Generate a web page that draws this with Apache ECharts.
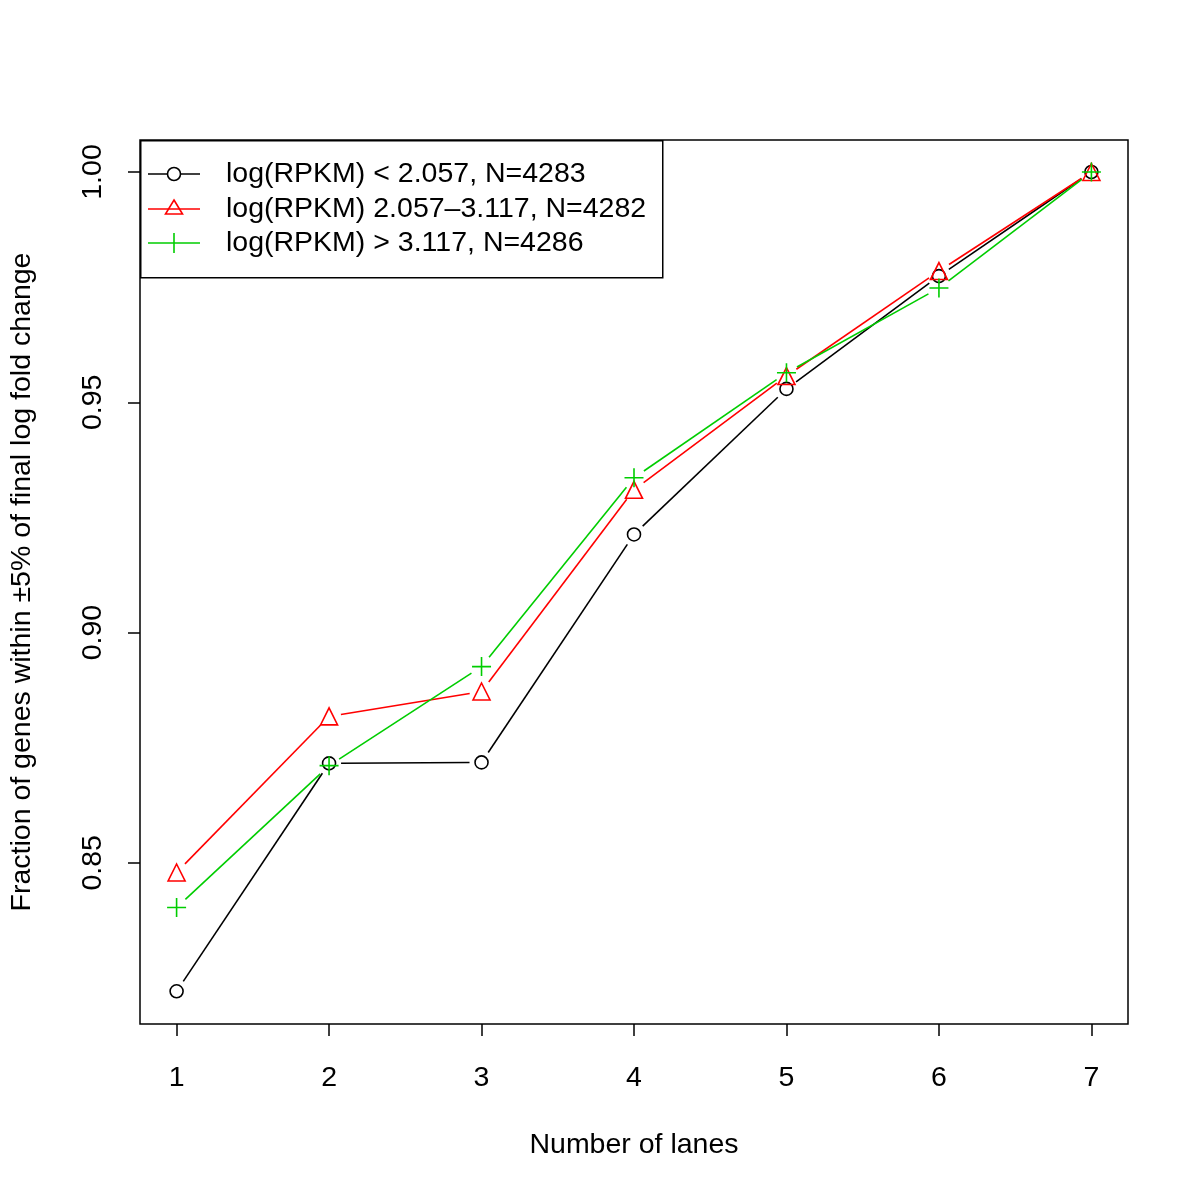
<!DOCTYPE html>
<html><head><meta charset="utf-8">
<script src="https://cdn.jsdelivr.net/npm/echarts@6/dist/echarts.min.js"></script>
<style>html,body{margin:0;padding:0;background:#fff}#c{width:1200px;height:1200px}</style>
</head><body><div id="c"></div>
<script>
const lanes = [1, 2, 3, 4, 5, 6, 7];
const lowVals = [0.8221, 0.8716, 0.8718, 0.9213, 0.9529, 0.9774, 1.0];
const midVals = [0.8479, 0.8818, 0.8872, 0.9310, 0.9557, 0.9785, 1.0];
const highVals = [0.8403, 0.8711, 0.8926, 0.9336, 0.9564, 0.9748, 1.0];
const seriesNames = ['log(RPKM) < 2.057, N=4283', 'log(RPKM) 2.057\u20133.117, N=4282', 'log(RPKM) > 3.117, N=4286'];
const xTicks = [1, 2, 3, 4, 5, 6, 7];
const yTicks = [0.85, 0.90, 0.95, 1.00];
const xTitle = 'Number of lanes';
const yTitle = 'Fraction of genes within \u00B15% of final log fold change';

const colors = ['#000000', '#FF0000', '#00CD00'];
const FONT = 'Liberation Sans, Arial, sans-serif';
const FS = 28.5;
const plusPath = 'path://M0,-10 L0,10 M-10,0 L10,0';
const symbols = ['circle', 'triangle', plusPath];
const symSizes = [13, 17, 19];
const allVals = [lowVals, midVals, highVals];

function segs(vals) {
  const out = [];
  for (let i = 1; i < lanes.length; i++) out.push([lanes[i-1], vals[i-1], lanes[i], vals[i]]);
  return out;
}
function gapRender(color) {
  return function (params, api) {
    const p0 = api.coord([api.value(0), api.value(1)]);
    const p1 = api.coord([api.value(2), api.value(3)]);
    const dx = p1[0] - p0[0], dy = p1[1] - p0[1];
    const L = Math.sqrt(dx*dx + dy*dy);
    const g = 12;
    if (L <= 2*g) return null;
    const ux = dx / L, uy = dy / L;
    return {
      type: 'line',
      shape: {x1: p0[0] + ux*g, y1: p0[1] + uy*g, x2: p1[0] - ux*g, y2: p1[1] - uy*g},
      style: {stroke: color, lineWidth: 1.6}
    };
  };
}

const series = [];
allVals.forEach((vals, k) => {
  series.push({
    type: 'custom', name: seriesNames[k] + ' line', renderItem: gapRender(colors[k]),
    encode: {x: [0, 2], y: [1, 3]}, data: segs(vals), silent: true, z: 2
  });
  series.push({
    type: 'scatter', name: seriesNames[k], data: lanes.map((x, i) => [x, vals[i]]),
    symbol: symbols[k], symbolSize: symSizes[k],
    itemStyle: {color: 'rgba(0,0,0,0)', borderColor: colors[k], borderWidth: 1.6, opacity: 1},
    z: 3, silent: true
  });
});

const legendGraphics = [{
  type: 'rect', left: 140, top: 140, shape: {width: 522, height: 137},
  style: {fill: '#fff', stroke: '#000', lineWidth: 1.5}, z: 10
}];
const rowY = [174, 209, 243];
seriesNames.forEach((name, k) => {
  legendGraphics.push({type: 'line', shape: {x1: 148, y1: rowY[k], x2: 200, y2: rowY[k]}, style: {stroke: colors[k], lineWidth: 1.6}, z: 11});
  if (k === 0) legendGraphics.push({type: 'circle', shape: {cx: 174, cy: rowY[k], r: 6.5}, style: {fill: '#fff', stroke: colors[k], lineWidth: 1.6}, z: 12});
  if (k === 1) legendGraphics.push({type: 'polygon', shape: {points: [[174, rowY[k]-9], [182.5, rowY[k]+5], [165.5, rowY[k]+5]]}, style: {fill: 'none', stroke: colors[k], lineWidth: 1.6}, z: 12});
  if (k === 2) legendGraphics.push({type: 'line', shape: {x1: 174, y1: rowY[k]-10, x2: 174, y2: rowY[k]+10}, style: {stroke: colors[k], lineWidth: 1.6}, z: 12});
  legendGraphics.push({type: 'text', x: 226, y: rowY[k], style: {text: name, font: FS + 'px ' + FONT, fill: '#000', textVerticalAlign: 'middle', textAlign: 'left'}, z: 12});
});
legendGraphics.push({
  type: 'text', x: 22, y: 582, rotation: Math.PI/2,
  style: {text: yTitle, font: FS + 'px ' + FONT, fill: '#000', textAlign: 'center', textVerticalAlign: 'middle'}
});

const chart = echarts.init(document.getElementById('c'), null, {renderer: 'canvas'});
chart.setOption({
  animation: false,
  backgroundColor: '#fff',
  grid: {left: 140, top: 140, width: 988, height: 884, show: true, borderColor: '#000', borderWidth: 1.5, backgroundColor: 'transparent'},
  xAxis: {
    type: 'value', min: 0.76, max: 7.24,
    name: xTitle, nameLocation: 'middle', nameGap: 107,
    nameTextStyle: {fontSize: FS, fontFamily: FONT, color: '#000'},
    axisLine: {show: false},
    axisTick: {show: true, inside: false, length: 12, customValues: xTicks, lineStyle: {color: '#000', width: 1.5}},
    axisLabel: {customValues: xTicks, fontSize: FS, fontFamily: FONT, color: '#000', margin: 40},
    splitLine: {show: false}
  },
  yAxis: {
    type: 'value', min: 0.8150, max: 1.00695,
    axisLine: {show: false},
    axisTick: {show: true, inside: false, length: 12, customValues: yTicks, lineStyle: {color: '#000', width: 1.5}},
    axisLabel: {customValues: yTicks, rotate: 90, fontSize: FS, fontFamily: FONT, color: '#000', margin: 32,
      formatter: v => v.toFixed(2)},
    splitLine: {show: false}
  },
  graphic: legendGraphics,
  series: series
});
</script></body></html>
